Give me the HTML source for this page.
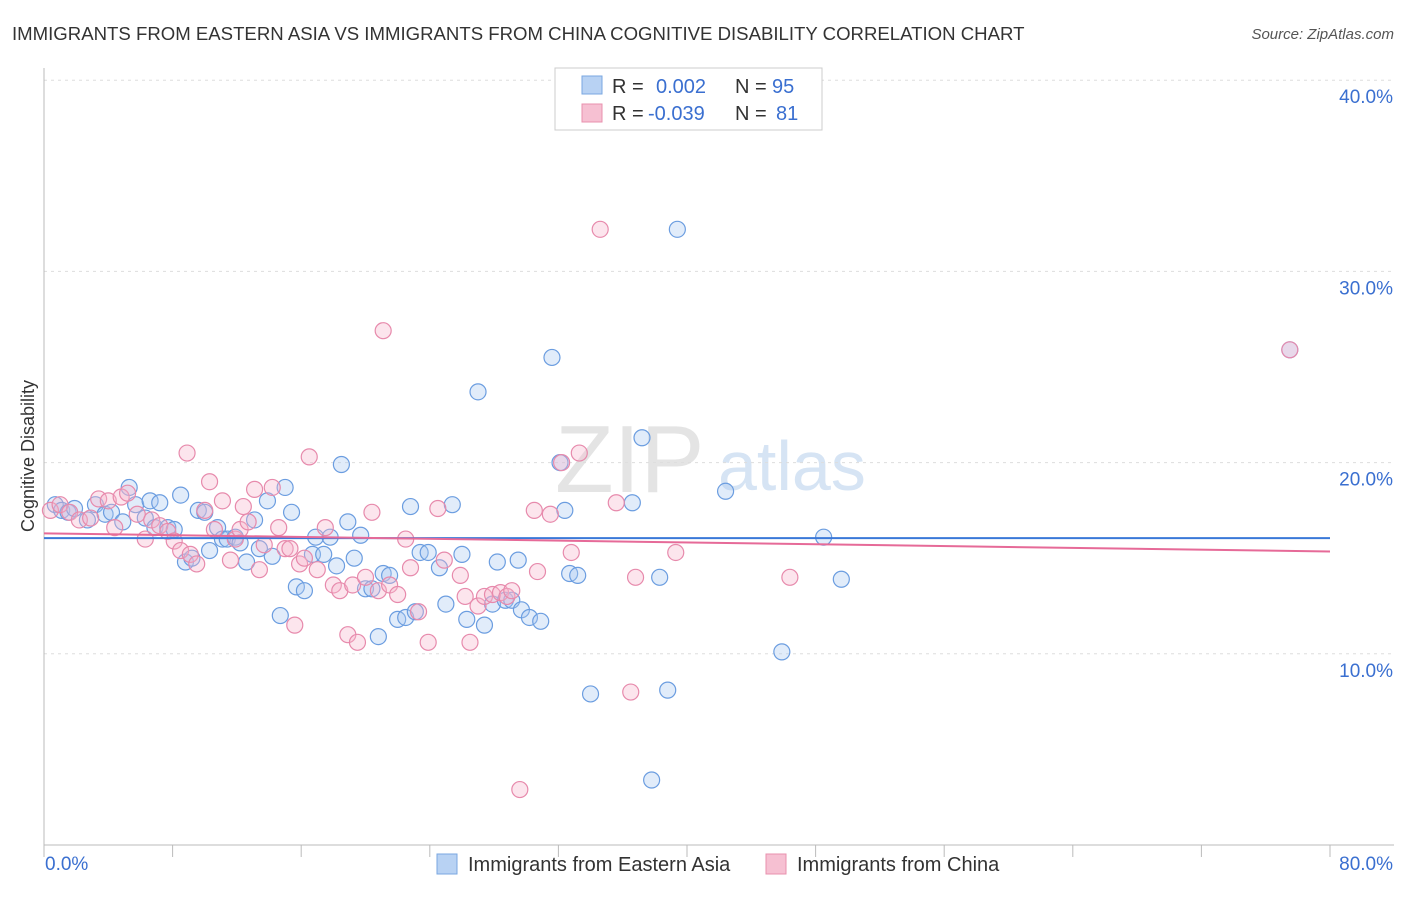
<!DOCTYPE html>
<html><head><meta charset="utf-8"><style>
body{margin:0;background:#fff;font-family:"Liberation Sans",sans-serif;}
svg text{font-family:"Liberation Sans",sans-serif;}
</style></head><body>
<svg id="c" width="1406" height="892">
<text x="12" y="40" font-size="18.6" fill="#333">IMMIGRANTS FROM EASTERN ASIA VS IMMIGRANTS FROM CHINA COGNITIVE DISABILITY CORRELATION CHART</text>
<text x="1394" y="39" font-size="15" fill="#555" text-anchor="end" font-style="italic">Source: ZipAtlas.com</text>
<text x="34" y="456" font-size="18" fill="#333" text-anchor="middle" transform="rotate(-90 34 456)">Cognitive Disability</text>
<text x="555" y="492" font-size="96" fill="#e4e4e4" font-family="Liberation Serif">ZIP</text>
<text x="718" y="490" font-size="70" fill="#d6e4f4">atlas</text>
<g id="grid"></g><g id="pts"></g><g id="trend"></g>
<g>
<rect x="555" y="68" width="267" height="62" fill="#fff" stroke="#ccc"/>
<rect x="582" y="76" width="20" height="18" fill="#b8d2f3" stroke="#7aa7e0"/>
<rect x="582" y="104" width="20" height="18" fill="#f6c0d2" stroke="#e890ae"/>
<text x="612" y="93" font-size="20" fill="#333">R =</text>
<text x="656" y="93" font-size="20" fill="#3a6fd0">0.002</text>
<text x="735" y="93" font-size="20" fill="#333">N =</text>
<text x="772" y="93" font-size="20" fill="#3a6fd0">95</text>
<text x="612" y="120" font-size="20" fill="#333">R =</text>
<text x="648" y="120" font-size="20" fill="#3a6fd0">-0.039</text>
<text x="735" y="120" font-size="20" fill="#333">N =</text>
<text x="776" y="120" font-size="20" fill="#3a6fd0">81</text>
</g>
<g>
<rect x="437" y="854" width="20" height="20" fill="#b8d2f3" stroke="#7aa7e0"/>
<text x="468" y="871" font-size="20" fill="#333">Immigrants from Eastern Asia</text>
<rect x="766" y="854" width="20" height="20" fill="#f6c0d2" stroke="#e890ae"/>
<text x="797" y="871" font-size="20" fill="#333">Immigrants from China</text>
</g>
</svg>
<script>
const yTicks=[10,20,30,40];
const xTickLabels=["0.0%","80.0%"];
const blueX=[0.7,1.1,1.5,1.9,2.7,3.2,3.8,4.2,4.9,5.3,
5.7,6.3,6.6,6.9,7.2,7.7,8.1,8.5,8.8,9.2,
9.6,10.0,10.3,10.8,11.1,11.4,11.9,12.2,12.6,13.1,
13.4,13.9,14.2,14.7,15.0,15.4,15.7,16.2,16.7,16.9,
17.4,17.8,18.2,18.5,18.9,19.3,19.7,20.0,20.4,20.8,
21.1,21.5,22.0,22.5,22.8,23.1,23.4,23.9,24.6,25.0,
25.4,26.0,26.3,27.0,27.4,27.9,28.2,28.7,29.1,29.5,
29.7,30.2,30.9,31.6,32.1,32.4,32.7,33.2,34.0,36.6,
37.2,37.8,38.3,38.8,39.4,42.4,45.9,48.5,49.6,77.5];
const blueY=[17.8,17.5,17.4,17.6,17.0,17.8,17.3,17.4,16.9,18.7,
17.8,17.1,18.0,16.6,17.9,16.6,16.5,18.3,14.8,15.0,
17.5,17.4,15.4,16.6,16.0,16.0,16.1,15.8,14.8,17.0,
15.5,18.0,15.1,12.0,18.7,17.4,13.5,13.3,15.2,16.1,
15.2,16.1,14.6,19.9,16.9,15.0,16.2,13.4,13.4,10.9,
14.2,14.1,11.8,11.9,17.7,12.2,15.3,15.3,14.5,12.6,
17.8,15.2,11.8,23.7,11.5,12.6,14.8,12.8,12.8,14.9,
12.3,11.9,11.7,25.5,20.0,17.5,14.2,14.1,7.9,17.9,
21.3,3.4,14.0,8.1,32.2,18.5,10.1,16.1,13.9,25.9];
const pinkX=[0.4,1.0,1.6,2.2,2.9,3.4,4.0,4.4,4.8,5.2,5.8,6.3,6.7,7.2,7.7,8.1,8.5,8.9,9.1,9.5,10.0,10.3,10.6,11.1,11.6,11.9,12.2,12.4,12.7,13.1,13.4,13.7,14.2,14.6,15.0,15.3,15.6,15.9,16.2,16.5,17.0,17.5,18.0,18.4,18.9,19.2,19.5,20.0,20.4,20.8,21.1,21.5,22.0,22.5,22.8,23.3,23.9,24.5,24.9,25.9,26.2,26.5,27.0,27.4,27.9,28.4,28.8,29.1,29.6,30.5,30.7,31.5,32.2,32.8,33.3,34.6,35.6,36.5,36.8,39.3,46.4,77.5];
const pinkY=[17.5,17.8,17.4,17.0,17.1,18.1,18.0,16.6,18.2,18.4,17.3,16.0,17.0,16.7,16.4,15.9,15.4,20.5,15.2,14.7,17.5,19.0,16.5,18.0,14.9,16.0,16.5,17.7,16.9,18.6,14.4,15.7,18.7,16.6,15.5,15.5,11.5,14.7,15.0,20.3,14.4,16.6,13.6,13.3,11.0,13.6,10.6,14.0,17.4,13.3,26.9,13.6,13.1,16.0,14.5,12.2,10.6,17.6,14.9,14.1,13.0,10.6,12.5,13.0,13.1,13.2,13.0,13.3,2.9,17.5,14.3,17.3,20.0,15.3,20.5,32.2,17.9,8.0,14.0,15.3,14.0,25.9];
const trendBlue=[16.05,16.05];
const trendPink=[16.3,15.35];
const X0=44,X1=1330,Y0=845,PY=19.12;
const sx=v=>X0+(v/80)*(X1-X0);
const sy=v=>Y0-v*PY;
const NS="http://www.w3.org/2000/svg";
function mk(t,a,p){const e=document.createElementNS(NS,t);for(const k in a)e.setAttribute(k,a[k]);p.appendChild(e);return e;}
const g=document.getElementById('grid');
yTicks.forEach(t=>{
 const l=mk('line',{x1:X0,x2:1394,y1:sy(t),y2:sy(t),stroke:'#ddd','stroke-dasharray':'3,4'},g);
 
 
 const tx=mk('text',{x:1393,y:sy(t)+23,'font-size':19,fill:'#3a6fd0','text-anchor':'end'},g);
 tx.textContent=t.toFixed(1)+'%';
 
 
});
const ax=mk('line',{x1:X0,x2:1394,y1:Y0,y2:Y0,stroke:'#bbb'},g);


const ay=mk('line',{x1:X0,x2:X0,y1:68,y2:Y0,stroke:'#bbb'},g);


for(let i=0;i<=10;i++){const v=i*8;
 const tk=mk('line',{x1:sx(v),x2:sx(v),y1:Y0,y2:Y0+12,stroke:'#bbb'},g);
 
 }
[[0,'start',45],[80,'end',1393]].forEach((d,i)=>{
 const t=mk('text',{x:d[2],y:870,'font-size':19,fill:'#3a6fd0','text-anchor':d[1]},g);
 t.textContent=xTickLabels[i];
 
 });
const P=document.getElementById('pts');
function pts(xs,ys,fill,stroke,name){xs.forEach((x,i)=>{
 const c=mk('circle',{cx:sx(x),cy:sy(ys[i]),r:8,fill:fill,'fill-opacity':0.35,stroke:stroke,'stroke-width':1.2},P);
 
 });}
pts(blueX,blueY,'#a9c8f0','#6b9de0','point-eastern-asia');
pts(pinkX,pinkY,'#f5b5cb','#e78aac','point-china');
const T=document.getElementById('trend');
const tb=mk('line',{x1:sx(0),x2:sx(80),y1:sy(trendBlue[0]),y2:sy(trendBlue[1]),stroke:'#3a78d8','stroke-width':2},T);


const tp=mk('line',{x1:sx(0),x2:sx(80),y1:sy(trendPink[0]),y2:sy(trendPink[1]),stroke:'#e66a98','stroke-width':2},T);


</script>
</body></html>
